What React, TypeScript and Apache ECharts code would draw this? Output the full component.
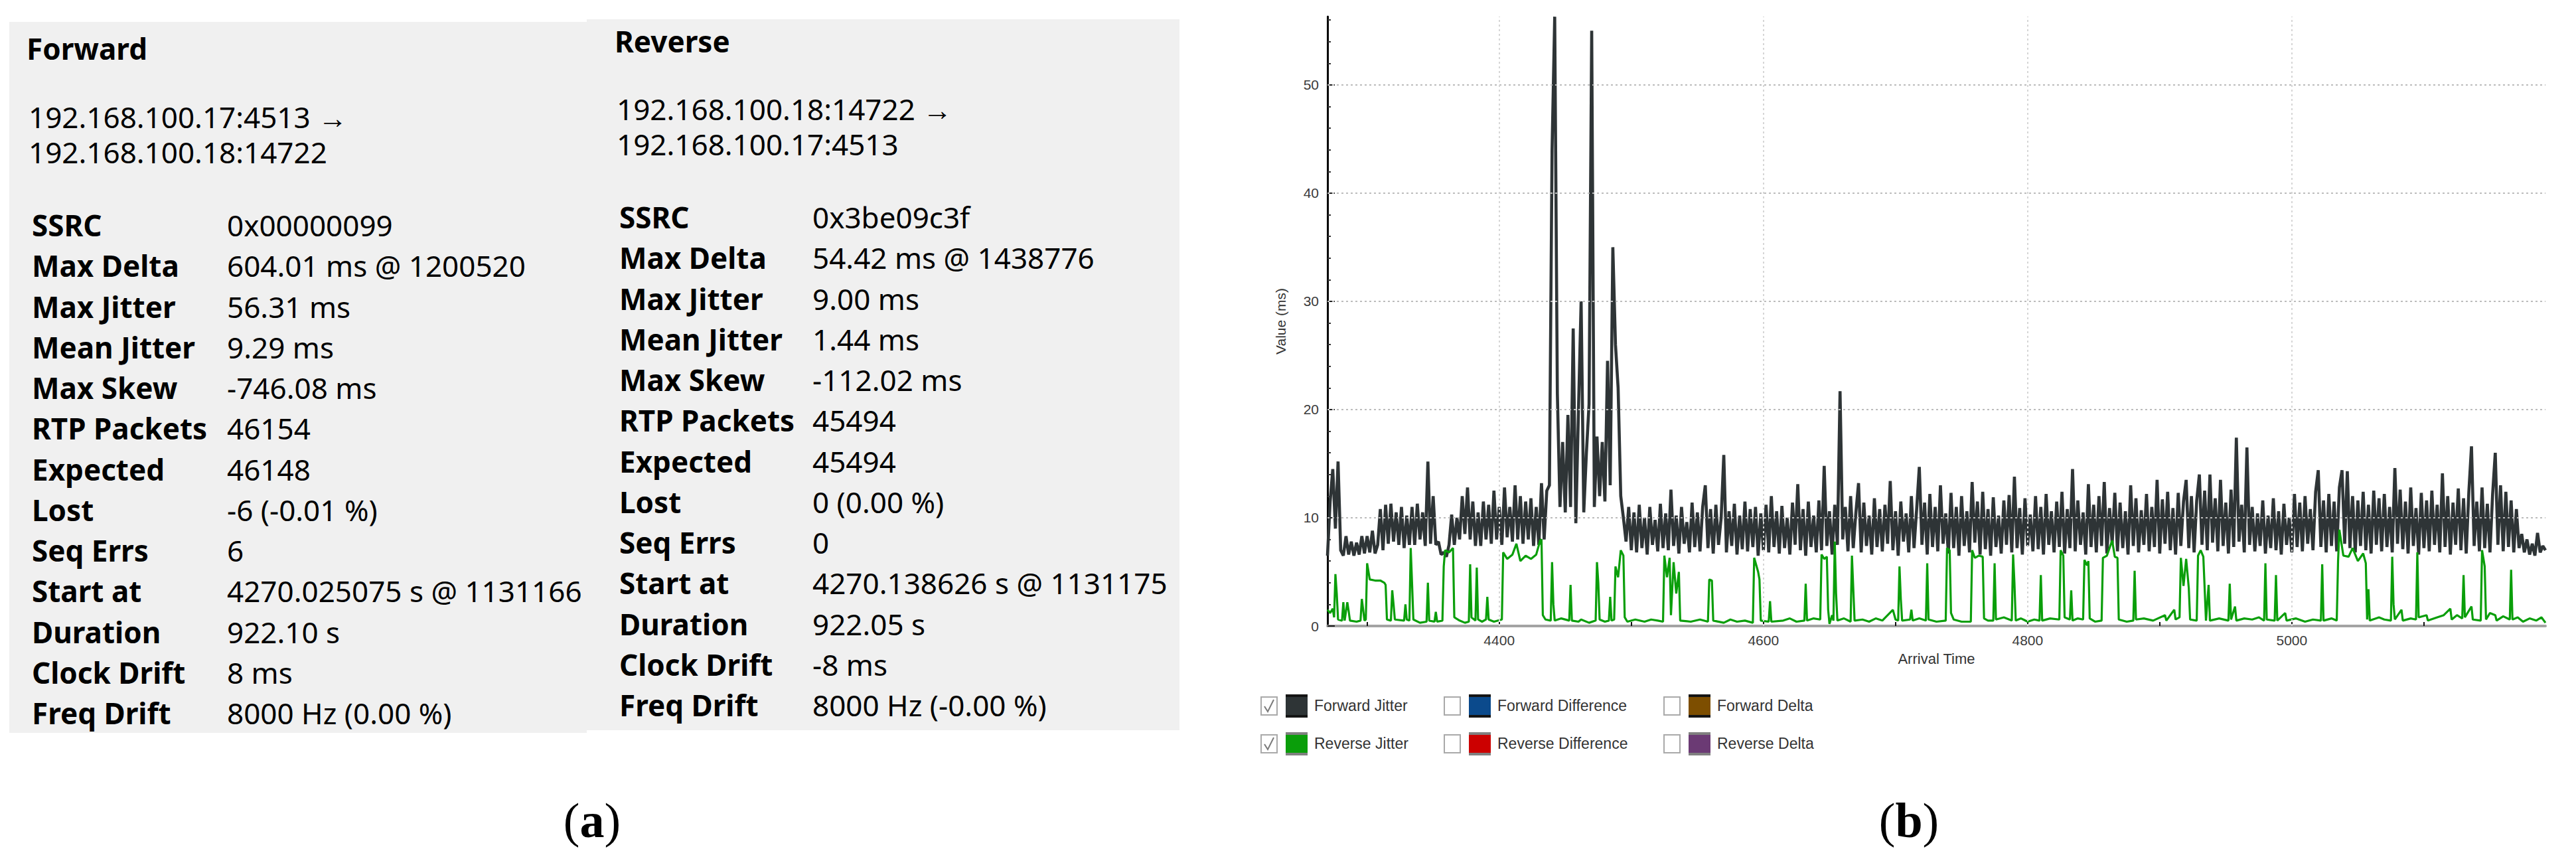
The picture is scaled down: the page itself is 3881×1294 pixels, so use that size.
import React, { useEffect, useRef } from "react";
import * as echarts from "echarts";

// ---------- DATA ----------
// Forward jitter (ms), sampled every 2 s starting at 4270 s
const FWD_START = 4270;
const FWD_STEP = 2;
const FORWARD_JITTER = [
  6.5, 11.5, 14.5, 9, 15.2, 7, 6.5, 8.3, 6.6, 7.8,
  6.5, 7.7, 6.6, 8.3, 6.7, 8.3, 6.8, 8.8, 6.7, 7.5,
  10.8, 7, 11.2, 7.6, 11.3, 7.8, 10.5, 7.5, 11, 7.2,
  10.2, 7.5, 11, 7.5, 11.3, 8, 10.5, 7.4, 15.2, 7.6,
  12, 7.5, 7.8, 6.6, 6.8, 6.4, 7.5, 10.3, 7.5, 10,
  8, 12, 8.5, 12.8, 8, 11.5, 7.4, 10.5, 7.4, 11.5,
  8, 11.2, 7.6, 12.5, 8, 11, 7.5, 12.8, 8.2, 11,
  7.8, 13, 8, 12, 7.6, 11.5, 8, 11.8, 7.4, 11,
  7.5, 13.2, 8, 12.5, 13, 44, 56.3, 21.5, 11, 17,
  10.5, 19.5, 11, 27.5, 9.5, 20, 30, 10.5, 16, 20.5,
  55, 11, 17.5, 12, 17, 11.5, 24.5, 13, 35, 26,
  22, 12, 10, 7.8, 11, 7, 10.5, 6.8, 11.2, 7.2,
  10, 6.6, 11, 7.5, 9.8, 6.9, 11.3, 7.2, 10.4, 7,
  12.6, 7.4, 10.2, 6.7, 11, 7.6, 9.6, 6.8, 11.4, 7.3,
  10.5, 6.9, 11, 13, 7.2, 10.8, 6.7, 11.2, 7.5, 10,
  15.8, 6.8, 10.6, 7.4, 11.3, 6.6, 10.2, 7.1, 11.5, 6.9,
  10.8, 7.3, 11, 6.5, 10.4, 7, 11.2, 6.8, 12, 7.3,
  10.6, 6.7, 11.1, 7.2, 10, 6.6, 11.4, 7.5, 13.1, 7,
  10.8, 6.5, 11.5, 7.3, 10.2, 6.8, 11.6, 7, 14.8, 7.4,
  10.6, 6.6, 11.2, 7.5, 21.7, 8, 11, 6.9, 12, 7.2,
  10.5, 13.2, 6.8, 11.4, 7.4, 10.2, 6.6, 11.8, 7.3, 10.8,
  6.9, 11.2, 7.6, 13.4, 7, 10.6, 6.5, 11.5, 7.8, 10.4,
  6.8, 12, 7.2, 10.8, 14.7, 7.5, 11.4, 6.6, 12.2, 7.3,
  11, 6.9, 13, 7.6, 10.4, 6.7, 12.3, 7.2, 11, 6.5,
  12, 7.4, 10.6, 6.8, 13.3, 7.7, 11.5, 6.6, 12.4, 7.1,
  10.8, 6.5, 11.9, 7.3, 10.2, 6.7, 11.6, 7.5, 12.1, 6.8,
  13.8, 7.2, 10.9, 6.6, 11.8, 7.4, 10.3, 6.9, 12, 7.1,
  11, 6.6, 12.2, 7.5, 10.6, 6.8, 11.5, 7.3, 12.4, 6.7,
  10.8, 7.2, 14.5, 6.9, 11.6, 7.5, 10.5, 6.6, 13.1, 7.3,
  11.2, 6.8, 12, 7.4, 13.3, 6.7, 10.9, 7.6, 12.3, 6.9,
  11.4, 7.2, 10.6, 6.6, 13, 7.4, 11.8, 6.8, 10.7, 7.5,
  12.2, 6.9, 11, 7.3, 13.5, 6.7, 11.7, 7.6, 12.4, 7,
  10.9, 6.6, 12.3, 7.4, 11.5, 13.5, 7.2, 12, 6.8, 11.6,
  14, 7.5, 12.5, 7, 14, 7.7, 11.8, 6.9, 13.5, 7.4,
  11.4, 6.7, 12.6, 7.3, 17.4, 7.8, 11.2, 6.8, 16.5, 7.5,
  11, 6.9, 10.4, 7.4, 11.6, 6.7, 10.2, 7.2, 11.8, 7,
  10.6, 6.6, 11.3, 7.5, 10, 6.8, 12.2, 7.3, 11.4, 6.9,
  12, 7.6, 10.8, 7, 12.4, 14.4, 7.3, 11.6, 6.8, 12.2,
  7.4, 11.5, 6.9, 12.8, 14.4, 7.6, 14.3, 7.2, 12, 6.8,
  11.6, 7.4, 12.4, 7, 11.2, 6.7, 12.5, 7.5, 11.8, 6.9,
  12.2, 7.3, 11, 6.8, 14.6, 7.6, 12.6, 7.1, 11.5, 6.7,
  12.8, 7.4, 10.9, 6.6, 12.3, 7.2, 11.6, 6.9, 12.5, 7.5,
  11.2, 6.8, 14.1, 7.3, 12, 6.6, 11.4, 7.5, 12.7, 7,
  11.8, 6.7, 12.4, 16.6, 7.4, 11.5, 6.9, 12.8, 7.2, 11.3,
  6.8, 12.2, 16, 7.5, 13, 6.9, 12.4, 7.3, 11.6, 6.8,
  10.8, 7.2, 8.5, 6.8, 8, 6.6, 7.6, 6.5, 8.6, 6.8,
  7.4, 7,
];

// Reverse jitter (ms): [arrival time s, value]
const REVERSE_JITTER: [number, number][] = [
  [4270, 1.5], [4272, 1.2], [4274, 1.6], [4275, 0.8], [4276, 4.8], [4277, 3], [4278, 0.6], [4281, 0.5],
  [4282, 2.2], [4283, 0.5], [4285, 2.2], [4286, 1.4], [4287, 0.5], [4292, 0.4], [4295, 0.5], [4296, 2.5],
  [4297, 1.5], [4298, 0.5], [4299, 0.6], [4300, 5.8], [4302, 4.3], [4306, 4.2], [4310, 4.2], [4313, 4],
  [4314, 3.8], [4315, 0.6], [4318, 0.5], [4319, 3.3], [4320, 2], [4321, 0.6], [4328, 0.5], [4329, 2],
  [4330, 0.6], [4332, 0.5], [4333, 7.2], [4334, 4], [4335, 0.6], [4340, 0.3], [4345, 0.4], [4346, 4],
  [4347, 0.5], [4351, 0.4], [4352, 1.3], [4353, 0.4], [4357, 0.5], [4358, 5.5], [4359, 7], [4362, 6.8],
  [4365, 7.2], [4366, 0.8], [4370, 0.5], [4374, 0.3], [4377, 0.4], [4378, 5.7], [4379, 0.8], [4382, 0.5],
  [4383, 5.4], [4384, 0.6], [4387, 0.4], [4390, 0.6], [4391, 2.7], [4392, 0.6], [4396, 0.4], [4402, 0.6],
  [4403, 6.8], [4406, 6.2], [4410, 6.6], [4413, 7.6], [4416, 6], [4420, 6.5], [4424, 6.2], [4428, 6.6],
  [4431, 7.9], [4432, 8], [4433, 1], [4435, 0.6], [4439, 0.5], [4440, 5.9], [4441, 2], [4442, 0.5],
  [4447, 0.7], [4453, 0.5], [4454, 3.8], [4455, 0.5], [4460, 0.4], [4462, 0.6], [4468, 0.3], [4473, 0.5],
  [4474, 5.9], [4475, 4], [4476, 0.6], [4480, 0.4], [4483, 0.5], [4484, 2.7], [4485, 0.5], [4487, 0.6],
  [4488, 5.5], [4490, 4.5], [4492, 7], [4494, 6.5], [4495, 0.8], [4497, 0.4], [4503, 0.6], [4510, 0.4],
  [4515, 0.6], [4520, 0.5], [4524, 0.4], [4525, 6.5], [4527, 4.5], [4529, 6.3], [4530, 1], [4532, 5.9],
  [4534, 3], [4536, 5], [4537, 0.5], [4545, 0.4], [4552, 0.6], [4558, 0.4], [4559, 4.3], [4561, 4.2],
  [4562, 0.5], [4570, 0.3], [4575, 0.6], [4580, 0.4], [4586, 0.5], [4592, 0.3], [4593, 6.3], [4596, 5],
  [4597, 4.3], [4598, 0.5], [4604, 0.4], [4605, 2.3], [4606, 0.4], [4615, 0.5], [4620, 0.7], [4625, 0.4],
  [4631, 0.5], [4632, 3.9], [4633, 0.5], [4638, 0.7], [4643, 0.6], [4644, 6.6], [4646, 6.2], [4648, 6.4],
  [4649, 1.5], [4650, 0.2], [4652, 1], [4653, 0.5], [4654, 7.8], [4655, 3], [4656, 0.5], [4661, 0.7],
  [4666, 0.4], [4667, 6.5], [4668, 3.5], [4669, 0.5], [4675, 0.6], [4680, 0.4], [4685, 0.7], [4690, 0.5],
  [4698, 1.5], [4700, 0.6], [4702, 0.5], [4703, 5.5], [4704, 2.5], [4705, 0.5], [4711, 0.6], [4712, 1.5],
  [4713, 0.5], [4718, 0.7], [4723, 0.5], [4724, 5.8], [4725, 0.6], [4731, 0.4], [4738, 0.5], [4739, 7.2],
  [4741, 7], [4742, 1.2], [4744, 0.6], [4750, 0.4], [4757, 0.4], [4758, 7], [4760, 6.3], [4763, 6.5],
  [4766, 6.4], [4767, 0.7], [4770, 0.5], [4774, 0.5], [4775, 5.8], [4776, 0.6], [4782, 0.8], [4788, 0.5],
  [4789, 6.6], [4790, 4], [4791, 0.5], [4795, 0.7], [4800, 0.4], [4805, 0.6], [4809, 0.5], [4810, 4.7],
  [4811, 0.5], [4817, 0.7], [4824, 0.6], [4825, 7], [4827, 6.5], [4828, 0.8], [4832, 0.6], [4833, 3.3],
  [4834, 0.5], [4838, 0.7], [4842, 0.6], [4843, 6.1], [4845, 5.6], [4846, 6], [4847, 0.7], [4851, 0.4],
  [4856, 0.5], [4857, 6.3], [4860, 6.5], [4864, 7.9], [4866, 6.4], [4868, 6.3], [4869, 0.6], [4875, 0.4],
  [4880, 0.5], [4881, 5.1], [4882, 0.6], [4888, 0.7], [4895, 0.5], [4904, 1], [4905, 0.5], [4911, 1.5],
  [4912, 0.6], [4915, 0.8], [4916, 6.3], [4918, 3.7], [4920, 6.2], [4922, 3.5], [4923, 0.6], [4928, 0.5],
  [4929, 6.5], [4931, 7], [4933, 6.4], [4934, 3.5], [4935, 0.5], [4937, 3.8], [4938, 0.5], [4945, 0.7],
  [4952, 0.5], [4953, 3.9], [4954, 0.6], [4957, 1.8], [4958, 0.5], [4964, 0.7], [4970, 0.6], [4975, 0.8],
  [4979, 0.5], [4980, 5.8], [4981, 0.6], [4987, 0.5], [4988, 4.7], [4989, 0.5], [4995, 1.2], [4996, 0.5],
  [5003, 0.7], [5010, 0.4], [5016, 0.6], [5022, 0.5], [5023, 5.7], [5024, 0.5], [5030, 0.7], [5034, 0.5],
  [5035, 6], [5036, 8.9], [5039, 6.5], [5043, 6.4], [5046, 7.2], [5050, 6], [5054, 6.7], [5056, 5.8],
  [5057, 0.6], [5058, 3.4], [5059, 0.5], [5066, 0.8], [5070, 0.6], [5075, 0.5], [5076, 6.4], [5077, 2],
  [5078, 0.6], [5083, 1.5], [5084, 0.5], [5090, 0.7], [5094, 0.6], [5095, 6.8], [5096, 0.8], [5102, 1],
  [5103, 0.5], [5110, 0.8], [5115, 1], [5120, 1.6], [5121, 0.6], [5125, 1], [5129, 0.7], [5130, 4.7],
  [5131, 0.8], [5136, 1.8], [5137, 0.6], [5143, 0.5], [5144, 7], [5146, 5.5], [5147, 0.6], [5150, 1.2],
  [5154, 1], [5155, 0.5], [5160, 0.9], [5165, 0.6], [5166, 5.2], [5167, 0.6], [5171, 0.8], [5175, 0.4],
  [5180, 0.7], [5185, 0.5], [5189, 0.8], [5192, 0.3],
];

const X_MIN = 4270;
const X_MAX = 5192;
const Y_MAX = 56.31;
const X_LABELS = [4400, 4600, 4800, 5000];
const X_TICKS = [4300, 4400, 4500, 4600, 4700, 4800, 4900, 5000, 5100];
const Y_LABELS = [0, 10, 20, 30, 40, 50];
const Y_GRID = [10, 20, 30, 40, 50];
const Y_MINOR_TICKS = [0, 2, 4, 6, 8, 10, 12, 14, 16, 18, 20, 22, 24, 26, 28, 30, 32, 34, 36, 38, 40, 42, 44, 46, 48, 50, 52, 54, 56];

const LEGEND_NAMES = ["Forward Jitter", "Forward Difference", "Forward Delta", "Reverse Jitter", "Reverse Difference", "Reverse Delta"];
const LEGEND_COLORS = ["#2e3436", "#0b4a8c", "#7d4e00", "#0a9e0a", "#cc0000", "#6b3a74"];
const LEGEND_CHECKED = [true, false, false, true, false, false];

const STAT_LABELS = ["SSRC", "Max Delta", "Max Jitter", "Mean Jitter", "Max Skew", "RTP Packets", "Expected", "Lost", "Seq Errs", "Start at", "Duration", "Clock Drift", "Freq Drift"];
const FWD_VALUES = ["0x00000099", "604.01 ms @ 1200520", "56.31 ms", "9.29 ms", "-746.08 ms", "46154", "46148", "-6 (-0.01 %)", "6", "4270.025075 s @ 1131166", "922.10 s", "8 ms", "8000 Hz (0.00 %)"];
const REV_VALUES = ["0x3be09c3f", "54.42 ms @ 1438776", "9.00 ms", "1.44 ms", "-112.02 ms", "45494", "45494", "0 (0.00 %)", "0", "4270.138626 s @ 1131175", "922.05 s", "-8 ms", "8000 Hz (-0.00 %)"];
const FWD_TITLE = "Forward";
const REV_TITLE = "Reverse";
const FWD_ADDR = ["192.168.100.17:4513 \u2192", "192.168.100.18:14722"];
const REV_ADDR = ["192.168.100.18:14722 \u2192", "192.168.100.17:4513"];

// ---------- LAYOUT ----------
const W = 3881;
const H = 1294;
const PANEL_FONT = '"Noto Sans", "Open Sans", sans-serif';
const CHART_FONT = '"Liberation Sans", Arial, sans-serif';

function panelTexts(
  boxX: number, boxY: number, boxW: number, boxH: number,
  titleX: number, titleY: number, addrX: number, addrY: number,
  labelX: number, valueX: number, rowY: number,
  title: string, addr: string[], values: string[]
) {
  const els: any[] = [];
  els.push({ type: "rect", shape: { x: boxX, y: boxY, width: boxW, height: boxH }, style: { fill: "#f0f0f0" }, silent: true });
  els.push({ type: "text", x: titleX, y: titleY, style: { text: title, fontFamily: PANEL_FONT, fontSize: 44, fontWeight: "bold", fill: "#000", verticalAlign: "middle", align: "left" } });
  addr.forEach((a, i) => {
    els.push({ type: "text", x: addrX, y: addrY + i * 53, style: { text: a, fontFamily: PANEL_FONT, fontSize: 44, fill: "#000", verticalAlign: "middle", align: "left" } });
  });
  STAT_LABELS.forEach((lab, i) => {
    const y = rowY + i * 61.25;
    els.push({ type: "text", x: labelX, y, style: { text: lab, fontFamily: PANEL_FONT, fontSize: 44, fontWeight: "bold", fill: "#000", verticalAlign: "middle", align: "left" } });
    els.push({ type: "text", x: valueX, y, style: { text: values[i], fontFamily: PANEL_FONT, fontSize: 44, fill: "#000", verticalAlign: "middle", align: "left" } });
  });
  return els;
}

function legendElements() {
  const colX = [1900, 2176, 2507];
  const rowY = [1063, 1120];
  const els: any[] = [];
  LEGEND_NAMES.forEach((name, k) => {
    const r = Math.floor(k / 3);
    const c = k % 3;
    const cx = colX[c];
    const cy = rowY[r];
    els.push({ type: "rect", shape: { x: cx, y: cy - 13, width: 24, height: 27 }, style: { fill: "#fff", stroke: "#a9a9a9", lineWidth: 2 } });
    if (LEGEND_CHECKED[k]) {
      els.push({ type: "polyline", shape: { points: [[cx + 5, cy + 1], [cx + 10, cy + 9], [cx + 19, cy - 9]] }, style: { stroke: "#7a7a7a", lineWidth: 2, fill: null } });
    }
    const edge = r === 0 ? "#151515" : "#808080";
    els.push({ type: "rect", shape: { x: cx + 37, y: cy - 17, width: 33, height: 35 }, style: { fill: LEGEND_COLORS[k] } });
    els.push({ type: "rect", shape: { x: cx + 37, y: cy - 17, width: 33, height: 4 }, style: { fill: edge } });
    els.push({ type: "rect", shape: { x: cx + 37, y: cy + 14, width: 33, height: 4 }, style: { fill: edge } });
    els.push({ type: "text", x: cx + 80, y: cy, style: { text: name, fontFamily: CHART_FONT, fontSize: 23, fill: "#333", verticalAlign: "middle", align: "left" } });
  });
  return els;
}

export default function App() {
  const ref = useRef<HTMLDivElement>(null);

  useEffect(() => {
    if (!ref.current) return;
    const chart = echarts.init(ref.current, undefined, { renderer: "svg", width: W, height: H });

    const fwdData = FORWARD_JITTER.map((v, i) => [FWD_START + i * FWD_STEP, v]);

    const gridLines: any[] = [
      ...Y_GRID.map((v) => ({ yAxis: v, lineStyle: { color: "#bcbcbc", width: 2, type: [3, 4] } })),
      ...X_LABELS.map((v) => ({ xAxis: v, lineStyle: { color: "#d6d6d6", width: 2, type: [3, 4] } })),
    ];

    const serif = '"Liberation Serif", "Times New Roman", serif';
    const graphic: any[] = [
      ...panelTexts(14, 33, 870, 1071, 40, 73, 43, 176, 48, 342, 339, FWD_TITLE, FWD_ADDR, FWD_VALUES),
      ...panelTexts(884, 29, 893, 1071, 926, 62, 929, 164, 933, 1224, 327, REV_TITLE, REV_ADDR, REV_VALUES),
      ...legendElements(),
      { type: "text", x: 892, y: 1236, style: { text: "({b|a})", rich: { b: { fontWeight: "bold", fontFamily: serif, fontSize: 74, fill: "#000" } }, fontFamily: serif, fontSize: 74, fill: "#000", align: "center", verticalAlign: "middle" } },
      { type: "text", x: 2876, y: 1236, style: { text: "({b|b})", rich: { b: { fontWeight: "bold", fontFamily: serif, fontSize: 74, fill: "#000" } }, fontFamily: serif, fontSize: 74, fill: "#000", align: "center", verticalAlign: "middle" } },
    ];

    chart.setOption({
      animation: false,
      backgroundColor: "#ffffff",
      textStyle: { fontFamily: CHART_FONT },
      grid: { left: 2000, top: 25, width: 1835, height: 918, containLabel: false },
      xAxis: {
        type: "value",
        min: X_MIN,
        max: X_MAX,
        name: "Arrival Time",
        nameLocation: "middle",
        nameGap: 38,
        nameTextStyle: { fontSize: 22, color: "#333", fontFamily: CHART_FONT },
        axisLine: { show: true, onZero: false, lineStyle: { color: "#a3a3a3", width: 4 } },
        axisTick: { show: true, customValues: X_TICKS, inside: true, length: 6, lineStyle: { color: "#111", width: 2 } },
        axisLabel: { show: true, customValues: X_LABELS, fontSize: 21, color: "#3a3a3a", margin: 11, fontFamily: CHART_FONT, formatter: (v: number) => String(v) },
        splitLine: { show: false },
      },
      yAxis: [
        {
          type: "value",
          min: 0,
          max: Y_MAX,
          name: "Value (ms)",
          nameLocation: "middle",
          nameGap: 60,
          nameTextStyle: { fontSize: 21, color: "#333", fontFamily: CHART_FONT },
          axisLine: { show: true, lineStyle: { color: "#000", width: 3 } },
          axisTick: { show: true, customValues: Y_MINOR_TICKS, inside: true, length: 5, lineStyle: { color: "#333", width: 2 } },
          axisLabel: { show: true, customValues: Y_LABELS, fontSize: 21, color: "#3a3a3a", margin: 13, fontFamily: CHART_FONT, formatter: (v: number) => String(v) },
          splitLine: { show: false },
        },
        {
          type: "value",
          min: 0,
          max: Y_MAX,
          position: "left",
          axisLine: { show: false },
          axisTick: { show: true, customValues: Y_LABELS, inside: true, length: 11, lineStyle: { color: "#222", width: 2 } },
          axisLabel: { show: false },
          splitLine: { show: false },
        },
      ],
      series: [
        {
          name: "grid",
          type: "line",
          data: [],
          z: 1,
          silent: true,
          markLine: { silent: true, symbol: ["none", "none"], label: { show: false }, animation: false, data: gridLines },
        },
        {
          name: "Forward Jitter",
          type: "line",
          data: fwdData,
          showSymbol: false,
          z: 3,
          lineStyle: { color: LEGEND_COLORS[0], width: 4.6, join: "miter", miterLimit: 1.5 },
          itemStyle: { color: LEGEND_COLORS[0] },
        },
        {
          name: "Reverse Jitter",
          type: "line",
          data: REVERSE_JITTER,
          showSymbol: false,
          z: 4,
          lineStyle: { color: LEGEND_COLORS[3], width: 3.2 },
          itemStyle: { color: LEGEND_COLORS[3] },
        },
      ],
      graphic,
    });

    return () => {
      chart.dispose();
    };
  }, []);

  return (
    <div
      ref={ref}
      style={{ position: "absolute", left: 0, top: 0, width: W, height: H, background: "#fff" }}
    />
  );
}
